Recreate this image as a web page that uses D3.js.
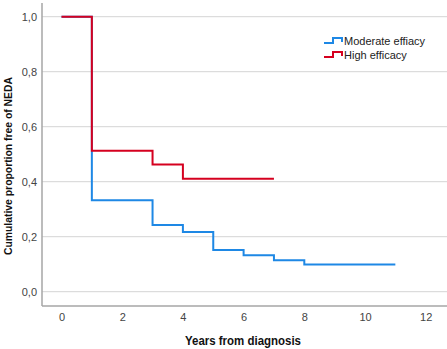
<!DOCTYPE html>
<html>
<head>
<meta charset="utf-8">
<script src="https://cdn.jsdelivr.net/npm/d3@7"></script>
<style>
  body { margin: 0; background: #fff; }
  text { font-family: Arial, "Liberation Sans", sans-serif; }
</style>
</head>
<body>
<div id="chart"></div>
<script>
// step curves (time in years, proportion free of NEDA)
const moderateTimes = [0, 1, 3, 4, 5, 6, 7, 8, 11];
const moderateValues = [1.0, 0.333, 0.243, 0.217, 0.152, 0.133, 0.114, 0.099, 0.099];
const highTimes = [0, 1, 3, 4, 7];
const highValues = [1.0, 0.513, 0.463, 0.411, 0.411];
const seriesNames = ["Moderate effiacy", "High efficacy"];
const seriesColors = ["#1e88e5", "#d5001f"];
const xTicks = [0, 2, 4, 6, 8, 10, 12];
const yTicks = [0, 0.2, 0.4, 0.6, 0.8, 1.0];

const width = 447;
const height = 349;

const svg = d3.select("#chart")
  .append("svg")
  .attr("width", width)
  .attr("height", height);

const x = d3.scaleLinear().domain([0, 12]).range([61.5, 425.7]);
const y = d3.scaleLinear().domain([0, 1]).range([291.7, 16.7]);

const axisLeftX = 42;
const axisBottomY = 306;

// grid lines
svg.append("g")
  .selectAll("line")
  .data(yTicks)
  .enter().append("line")
  .attr("x1", axisLeftX)
  .attr("x2", width)
  .attr("y1", d => y(d))
  .attr("y2", d => y(d))
  .attr("stroke", "#d4d4d4")
  .attr("stroke-width", 1);

// y axis labels
const yAxis = svg.append("g")
  .attr("transform", `translate(${axisLeftX},0)`)
  .call(d3.axisLeft(y).tickValues(yTicks).tickSize(0).tickPadding(5)
    .tickFormat(d => d3.format(".1f")(d).replace(".", ",")));
yAxis.select(".domain").remove();
yAxis.selectAll("text").style("font-size", "11px").attr("fill", "#444");

// x axis labels
const xAxis = svg.append("g")
  .attr("transform", `translate(0,${axisBottomY})`)
  .call(d3.axisBottom(x).tickValues(xTicks).tickSize(0).tickPadding(7));
xAxis.select(".domain").remove();
xAxis.selectAll("text").style("font-size", "11px").attr("fill", "#444");

// axis lines
svg.append("line")
  .attr("x1", axisLeftX).attr("x2", axisLeftX)
  .attr("y1", 3).attr("y2", axisBottomY)
  .attr("stroke", "#a6a6a6").attr("stroke-width", 1.5);
svg.append("line")
  .attr("x1", axisLeftX).attr("x2", width)
  .attr("y1", axisBottomY).attr("y2", axisBottomY)
  .attr("stroke", "#a6a6a6").attr("stroke-width", 1.5);

// step lines
const stepLine = d3.line()
  .x(d => x(d[0]))
  .y(d => y(d[1]))
  .curve(d3.curveStepAfter);

const series = [
  d3.zip(moderateTimes, moderateValues),
  d3.zip(highTimes, highValues)
];

svg.append("g")
  .selectAll("path")
  .data(series)
  .enter().append("path")
  .attr("d", stepLine)
  .attr("fill", "none")
  .attr("stroke", (d, i) => seriesColors[i])
  .attr("stroke-width", 2);

// legend
const legend = svg.append("g")
  .attr("transform", "translate(324,41)");

legend.selectAll("path")
  .data(seriesNames)
  .enter().append("path")
  .attr("d", (d, i) => `M0,${i * 14 + 2} H9 V${i * 14 - 3} H18 V${i * 14 + 1}`)
  .attr("fill", "none")
  .attr("stroke", (d, i) => seriesColors[i])
  .attr("stroke-width", 2);

legend.selectAll("text")
  .data(seriesNames)
  .enter().append("text")
  .attr("x", 20)
  .attr("y", (d, i) => i * 14 + 4)
  .style("font-size", "11px")
  .attr("fill", "#222")
  .text(d => d);

// axis titles
svg.append("text")
  .attr("x", 243)
  .attr("y", 345)
  .attr("text-anchor", "middle")
  .attr("textLength", 116)
  .attr("lengthAdjust", "spacingAndGlyphs")
  .style("font-size", "12px")
  .style("font-weight", "bold")
  .attr("fill", "#111")
  .text("Years from diagnosis");

svg.append("text")
  .attr("transform", "translate(12,166) rotate(-90)")
  .attr("text-anchor", "middle")
  .attr("textLength", 178)
  .attr("lengthAdjust", "spacingAndGlyphs")
  .style("font-size", "11px")
  .style("font-weight", "bold")
  .attr("fill", "#111")
  .text("Cumulative proportion free of NEDA");
</script>
</body>
</html>
